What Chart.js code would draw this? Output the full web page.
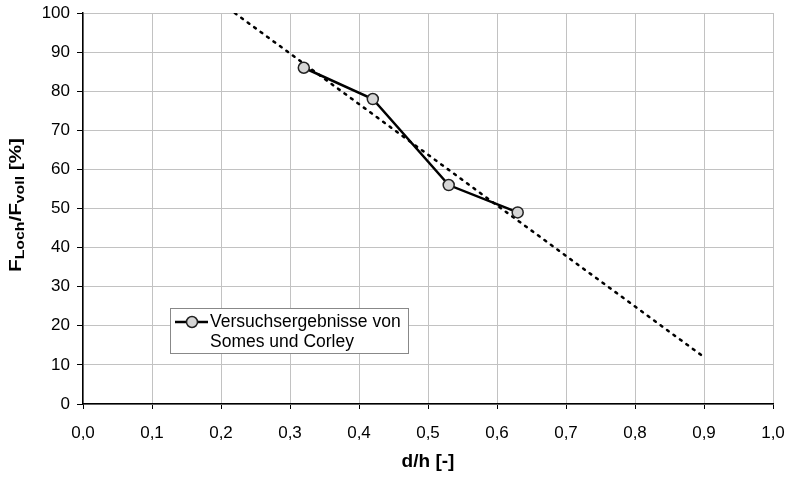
<!DOCTYPE html>
<html>
<head>
<meta charset="utf-8">
<script src="https://cdn.jsdelivr.net/npm/chart.js@4/dist/chart.umd.min.js"></script>
<style>
  html, body { margin: 0; padding: 0; background: #fff; }
  #wrap { width: 792px; height: 477px; }
</style>
</head>
<body>
<div id="wrap"><canvas id="chart" width="792" height="477"></canvas></div>
<script>
// --- Daten ---
const versuchX = [0.32, 0.42, 0.53, 0.63];
const versuchY = [86, 78, 56, 49];
const trendX = [0.22, 0.90];
const trendY = [100, 12];
const legendLines = ['Versuchsergebnisse von', 'Somes und Corley'];

const FONT = '"Liberation Sans", Arial, sans-serif';

// y-Achsentitel mit Indizes: F_Loch / F_voll [%]
const yTitlePlugin = {
    id: 'yTitle',
    afterDraw(chart) {
        const ctx = chart.ctx;
        const parts = [
            { t: 'F', sub: false }, { t: 'Loch', sub: true },
            { t: '/F', sub: false }, { t: 'voll', sub: true },
            { t: ' [%]', sub: false }
        ];
        const target = 134; // Länge des Titels im Bild
        ctx.save();
        ctx.translate(15, 205);
        ctx.rotate(-Math.PI / 2);
        ctx.fillStyle = '#000';
        ctx.textBaseline = 'alphabetic';
        let total = 0;
        parts.forEach(p => {
            ctx.font = 'bold ' + (p.sub ? 13 : 17) + 'px ' + FONT;
            p.w = ctx.measureText(p.t).width;
            total += p.w;
        });
        ctx.scale(target / total, 1);
        let x = -total / 2;
        parts.forEach(p => {
            ctx.font = 'bold ' + (p.sub ? 13 : 17) + 'px ' + FONT;
            ctx.fillText(p.t, x, p.sub ? 9 : 6);
            x += p.w;
        });
        ctx.restore();
    }
};

// Legende im Diagramm (zweizeilig)
const legendPlugin = {
    id: 'innerLegend',
    afterDraw(chart) {
        const ctx = chart.ctx;
        const ds = chart.data.datasets[0];
        ctx.save();
        ctx.fillStyle = '#fff';
        ctx.fillRect(170, 308, 238, 45);
        ctx.strokeStyle = '#888';
        ctx.lineWidth = 1;
        ctx.strokeRect(170.5, 308.5, 238, 45);
        ctx.strokeStyle = ds.borderColor;
        ctx.lineWidth = ds.borderWidth;
        ctx.beginPath();
        ctx.moveTo(175, 322);
        ctx.lineTo(208, 322);
        ctx.stroke();
        ctx.beginPath();
        ctx.arc(192, 322, ds.pointRadius, 0, Math.PI * 2);
        ctx.fillStyle = ds.pointBackgroundColor;
        ctx.fill();
        ctx.lineWidth = 1.5;
        ctx.strokeStyle = ds.pointBorderColor;
        ctx.stroke();
        ctx.fillStyle = '#000';
        ctx.font = '17.5px ' + FONT;
        ctx.textBaseline = 'middle';
        ctx.fillText(legendLines[0], 210, 322);
        ctx.fillText(legendLines[1], 210, 342);
        ctx.restore();
    }
};

const fmt = v => (Math.round(v * 10) / 10).toFixed(1).replace('.', ',');

new Chart(document.getElementById('chart'), {
    type: 'line',
    data: {
        datasets: [
            {
                label: 'Versuchsergebnisse von Somes und Corley',
                data: versuchX.map((x, i) => ({ x: x, y: versuchY[i] })),
                borderColor: '#000',
                borderWidth: 2.5,
                pointRadius: 5.5,
                pointBackgroundColor: '#d6d6d6',
                pointBorderColor: '#222',
                pointBorderWidth: 1.5,
                tension: 0
            },
            {
                label: 'Trend',
                data: trendX.map((x, i) => ({ x: x, y: trendY[i] })),
                borderColor: '#000',
                borderWidth: 2.5,
                borderDash: [2, 6],
                borderCapStyle: 'round',
                pointRadius: 0,
                tension: 0
            }
        ]
    },
    options: {
        responsive: false,
        animation: false,
        layout: { padding: { top: 13, right: 19, left: 0, bottom: 0 } },
        plugins: {
            legend: { display: false },
            tooltip: { enabled: false }
        },
        scales: {
            x: {
                type: 'linear',
                min: 0, max: 1,
                afterFit: s => { s.height = 73; s.paddingLeft = 0; s.paddingRight = 0; },
                ticks: {
                    stepSize: 0.1,
                    callback: fmt,
                    color: '#000',
                    font: { family: FONT, size: 17 },
                    padding: 14
                },
                grid: { color: '#c2c2c2', tickColor: '#000', tickLength: 5, lineWidth: 1 },
                border: { color: '#000', width: 1.5 },
                title: {
                    display: true, text: 'd/h [-]', color: '#000',
                    font: { family: FONT, size: 19, weight: 'bold' },
                    padding: { top: 7 }
                }
            },
            y: {
                min: 0, max: 100,
                afterFit: s => { s.width = 83; s.paddingTop = 0; s.paddingBottom = 0; },
                ticks: {
                    stepSize: 10,
                    color: '#000',
                    font: { family: FONT, size: 17 },
                    padding: 7
                },
                grid: { color: '#c2c2c2', tickColor: '#000', tickLength: 6, lineWidth: 1 },
                border: { color: '#000', width: 1.5 }
            }
        }
    },
    plugins: [yTitlePlugin, legendPlugin]
});
</script>
</body>
</html>
